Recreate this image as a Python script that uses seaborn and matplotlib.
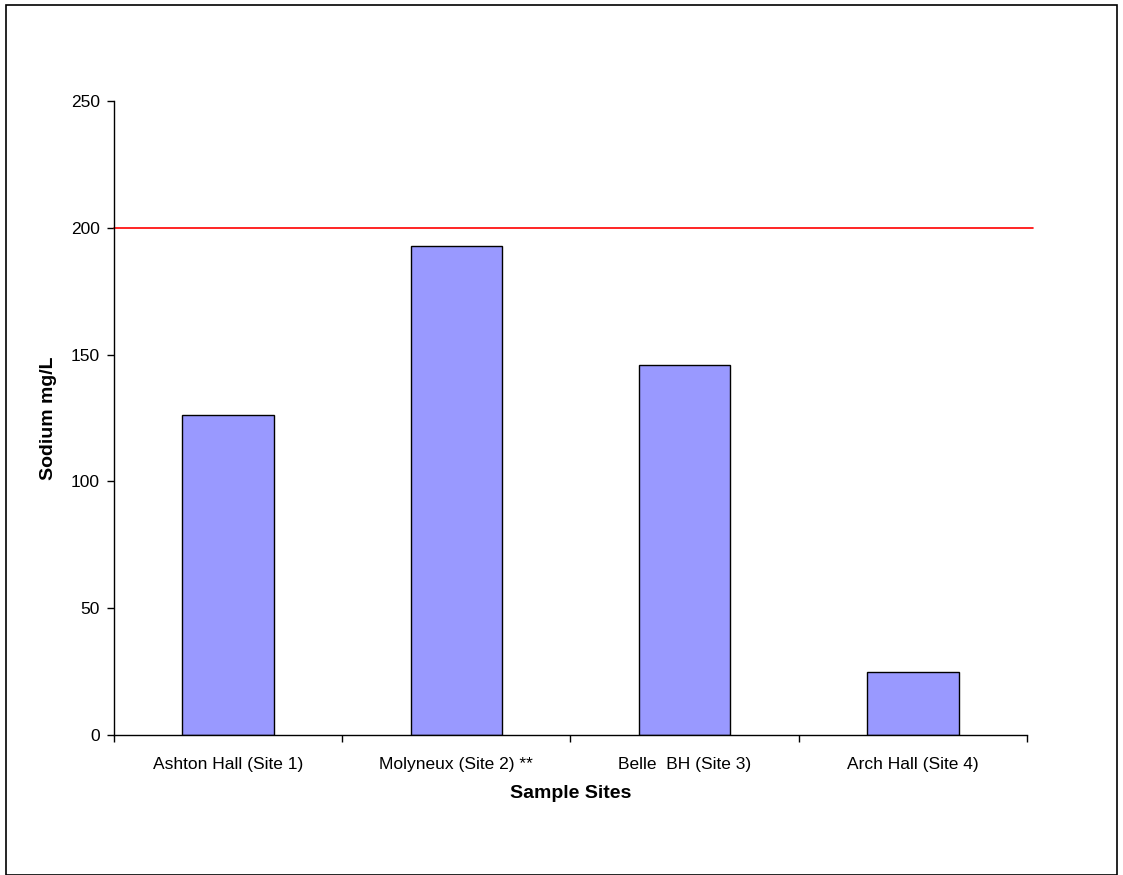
"""
Sodium concentration at each sample site, with the 200 mg/L guideline.
"""

import matplotlib.pyplot as plt
import pandas as pd
import seaborn as sns
from matplotlib.patches import Rectangle

sites = [
    "Ashton Hall (Site 1)",
    "Molyneux (Site 2) **",
    "Belle  BH (Site 3)",
    "Arch Hall (Site 4)",
]
sodium = [126, 193, 146, 25]
guideline = 200
y_ticks = [0, 50, 100, 150, 200, 250]

sns.set_style("white")
plt.rcParams["font.family"] = ["Liberation Sans", "DejaVu Sans"]
plt.rcParams["text.color"] = "black"
plt.rcParams["axes.labelcolor"] = "black"
plt.rcParams["xtick.color"] = "black"
plt.rcParams["ytick.color"] = "black"

df = pd.DataFrame({"site": sites, "sodium": sodium})

fig = plt.figure(figsize=(11.23, 8.75), dpi=100)
ax = fig.add_axes([0.1015, 0.16, 0.813, 0.7246])

sns.barplot(
    data=df, x="site", y="sodium", ax=ax,
    color="#9999ff", saturation=1, width=0.4,
    edgecolor="black", linewidth=1,
)

# guideline runs a little past the plot area, as in the original
ax.axhline(guideline, xmin=0, xmax=1.007, color="red", linewidth=1.2, clip_on=False)

ax.set_xlim(-0.5, len(sites) - 0.5)
ax.set_ylim(0, 250)
ax.set_yticks(y_ticks)

# category separators as tick marks below the axis
ax.set_xticks([i - 0.5 for i in range(len(sites) + 1)], minor=True)
ax.tick_params(axis="x", which="major", length=0, labelsize=12.5, pad=16, bottom=True)
ax.tick_params(axis="x", which="minor", length=5, width=1, direction="out", bottom=True)
ax.tick_params(axis="y", length=5, width=1, direction="out", labelsize=12.5, left=True, pad=5)

for side in ["top", "right"]:
    ax.spines[side].set_visible(False)
for side in ["left", "bottom"]:
    ax.spines[side].set_color("black")
    ax.spines[side].set_linewidth(1)

ax.set_xlabel("Sample Sites", fontsize=14, fontweight="bold", labelpad=9)
ax.set_ylabel("Sodium mg/L", fontsize=14, fontweight="bold", labelpad=10)

# outer frame around the whole chart
fig.patches.append(Rectangle(
    (0.005, 0.0), 0.99, 0.994, transform=fig.transFigure,
    fill=False, edgecolor="black", linewidth=1.2,
))

fig.savefig("out.png", dpi=100)
plt.close(fig)
